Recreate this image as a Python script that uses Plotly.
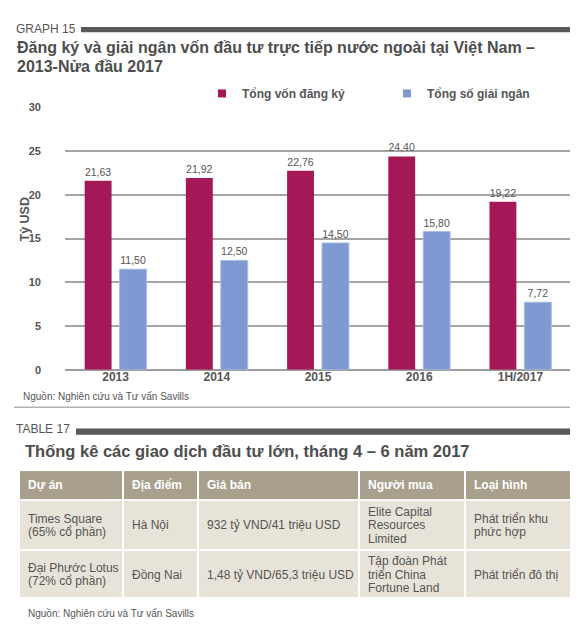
import plotly.graph_objects as go

W, H = 578, 624

# ---------------- data ----------------
categories = ["2013", "2014", "2015", "2016", "1H/2017"]
registered = [21.63, 21.92, 22.76, 24.40, 19.22]
disbursed = [11.50, 12.50, 14.50, 15.80, 7.72]
series_names = ["Tổng vốn đăng ký", "Tổng số giải ngân"]
y_ticks = [0, 5, 10, 15, 20, 25, 30]

table_header = ["Dự án", "Địa điểm", "Giá bán", "Người mua", "Loại hình"]
table_row1 = ["Times Square<br>(65% cổ phần)", "Hà Nội", "932 tỷ VND/41 triệu USD",
              "Elite Capital<br>Resources<br>Limited", "Phát triển khu<br>phức hợp"]
table_row2 = ["Đại Phước Lotus<br>(72% cổ phần)", "Đồng Nai", "1,48 tỷ VND/65,3 triệu USD",
              "Tập đoàn Phát<br>triển China<br>Fortune Land", "Phát triển đô thị"]

chart_title = ["Đăng ký và giải ngân vốn đầu tư trực tiếp nước ngoài tại Việt Nam –",
               "2013-Nửa đầu 2017"]
table_title = "Thống kê các giao dịch đầu tư lớn, tháng 4 – 6 năm 2017"
source_note = "Nguồn: Nghiên cứu và Tư vấn Savills"

# ---------------- layout constants ----------------
col_widths = [104, 75, 161, 106, 112]
row_heights = [31, 51, 49]

FONT = "Liberation Sans, Arial, sans-serif"
TXT = "#555555"
C_RED = "#A51858"
C_BLUE = "#7F9AD2"


def px(x):
    return x / W


def py(y):
    return 1 - y / H


fig = go.Figure()

fig.add_trace(go.Bar(
    x=categories, y=registered, name=series_names[0], marker=dict(color=C_RED, line=dict(width=0)),
    texttemplate="%{y:.2f}", textposition="outside", cliponaxis=False,
    textfont=dict(family=FONT, size=10.5, color=TXT), showlegend=False, hoverinfo="skip"))
fig.add_trace(go.Bar(
    x=categories, y=disbursed, name=series_names[1],
    marker=dict(color=C_BLUE, line=dict(width=1, color="#A9BBE4")),
    texttemplate="%{y:.2f}", textposition="outside", cliponaxis=False,
    textfont=dict(family=FONT, size=10.5, color=TXT), showlegend=False, hoverinfo="skip"))

# legend entries (small square symbols)
for name, col in zip(series_names, [C_RED, C_BLUE]):
    fig.add_trace(go.Scatter(x=[None], y=[None], mode="markers", name=name,
                             marker=dict(symbol="square", size=8, color=col), showlegend=True))

# ---------------- table as heatmap cells ----------------
x_edges = [0]
for w in col_widths:
    x_edges.append(x_edges[-1] + w)
y_edges = [0]
for h in row_heights:
    y_edges.append(y_edges[-1] + h)

z = [[0] * len(table_header), [1] * len(table_header), [1] * len(table_header)]
fig.add_trace(go.Heatmap(
    z=z, x=x_edges, y=y_edges, xaxis="x2", yaxis="y2",
    colorscale=[[0, "#A8A08D"], [1, "#E8E3D8"]], showscale=False,
    xgap=2, ygap=2, hoverinfo="skip"))

annotations = []
rows = [table_header, table_row1, table_row2]
LINE = 14
for r, row in enumerate(rows):
    yc = (y_edges[r] + y_edges[r + 1]) / 2
    for c, txt in enumerate(row):
        lines = txt.split("<br>")
        n = len(lines)
        for i, ln in enumerate(lines):
            yy = yc + (i - (n - 1) / 2) * LINE
            annotations.append(dict(
                xref="x2", yref="y2", x=x_edges[c] + 7, y=yy, text=ln,
                xanchor="left", yanchor="middle", showarrow=False,
                font=dict(family=FONT, size=12, color="white" if r == 0 else TXT,
                          weight="bold" if r == 0 else "normal")))

# ---------------- texts ----------------
annotations += [
    dict(xref="paper", yref="paper", x=px(6), y=py(15.7), text="GRAPH 15", xanchor="left",
         yanchor="middle", showarrow=False, font=dict(family=FONT, size=12, color=TXT)),
    dict(xref="paper", yref="paper", x=px(7), y=py(34.5), text=chart_title[0], xanchor="left",
         yanchor="middle", showarrow=False,
         font=dict(family=FONT, size=16, color="#4D4D4D", weight="bold")),
    dict(xref="paper", yref="paper", x=px(7), y=py(53.5), text=chart_title[1], xanchor="left",
         yanchor="middle", showarrow=False,
         font=dict(family=FONT, size=16, color="#4D4D4D", weight="bold")),
    dict(xref="paper", yref="paper", x=px(17), y=py(209.5), text="Tỷ USD", textangle=-90,
         xanchor="center", yanchor="middle", showarrow=False,
         font=dict(family=FONT, size=12.5, color=TXT, weight="bold")),
    dict(xref="paper", yref="paper", x=px(13), y=py(390), text=source_note, xanchor="left",
         yanchor="middle", showarrow=False, font=dict(family=FONT, size=10, color=TXT)),
    dict(xref="paper", yref="paper", x=px(6), y=py(423.5), text="TABLE 17", xanchor="left",
         yanchor="middle", showarrow=False, font=dict(family=FONT, size=12, color=TXT)),
    dict(xref="paper", yref="paper", x=px(15), y=py(446), text=table_title, xanchor="left",
         yanchor="middle", showarrow=False,
         font=dict(family=FONT, size=16.5, color="#4D4D4D", weight="bold")),
    dict(xref="paper", yref="paper", x=px(18), y=py(611), text=source_note, xanchor="left",
         yanchor="middle", showarrow=False, font=dict(family=FONT, size=10, color=TXT)),
]

shapes = [
    dict(type="rect", xref="paper", yref="paper", x0=px(73), x1=px(571), y0=py(18.5), y1=py(13.3),
         fillcolor="#595959", line=dict(width=0)),
    dict(type="line", xref="paper", yref="paper", x0=px(6), x1=px(571), y0=py(401), y1=py(401),
         line=dict(color="#B3B3B3", width=1.5)),
    dict(type="rect", xref="paper", yref="paper", x0=px(68), x1=px(571), y0=py(429), y1=py(422.5),
         fillcolor="#595959", line=dict(width=0)),
]

fig.update_layout(
    width=W, height=H, autosize=False,
    margin=dict(l=0, r=0, t=0, b=0),
    paper_bgcolor="white", plot_bgcolor="white",
    separators=",.",
    font=dict(family=FONT, color=TXT),
    barmode="group", bargap=0.31, bargroupgap=0.23,
    showlegend=True,
    legend=dict(orientation="h", x=px(194), y=py(81), xanchor="left", yanchor="middle",
                font=dict(family=FONT, size=12, color=TXT, weight="bold"),
                entrywidth=140, entrywidthmode="pixels", bgcolor="rgba(0,0,0,0)",
                itemclick=False, itemdoubleclick=False),
    xaxis=dict(domain=[px(57), px(563)], type="category", showgrid=False, showline=False,
               ticks="", ticklabelstandoff=-2,
               tickfont=dict(family=FONT, size=12, color=TXT, weight="bold"),
               fixedrange=True, anchor="y"),
    yaxis=dict(domain=[py(362.7), py(95.3)], range=[0, 30], tickvals=y_ticks,
               showgrid=True, gridcolor="#A5A5A5", gridwidth=1.5,
               zeroline=True, zerolinecolor="#9E9E9E", zerolinewidth=1.5,
               showline=False, ticks="", ticklabelstandoff=23,
               tickfont=dict(family=FONT, size=11, color=TXT, weight="bold"),
               fixedrange=True, anchor="x"),
    xaxis2=dict(domain=[px(11), px(569)], range=[0, x_edges[-1]], visible=False,
                fixedrange=True, anchor="y2"),
    yaxis2=dict(domain=[py(596), py(465)], range=[y_edges[-1], 0], visible=False,
                fixedrange=True, anchor="x2"),
    annotations=annotations,
    shapes=shapes,
)

fig.write_html("out.html")
